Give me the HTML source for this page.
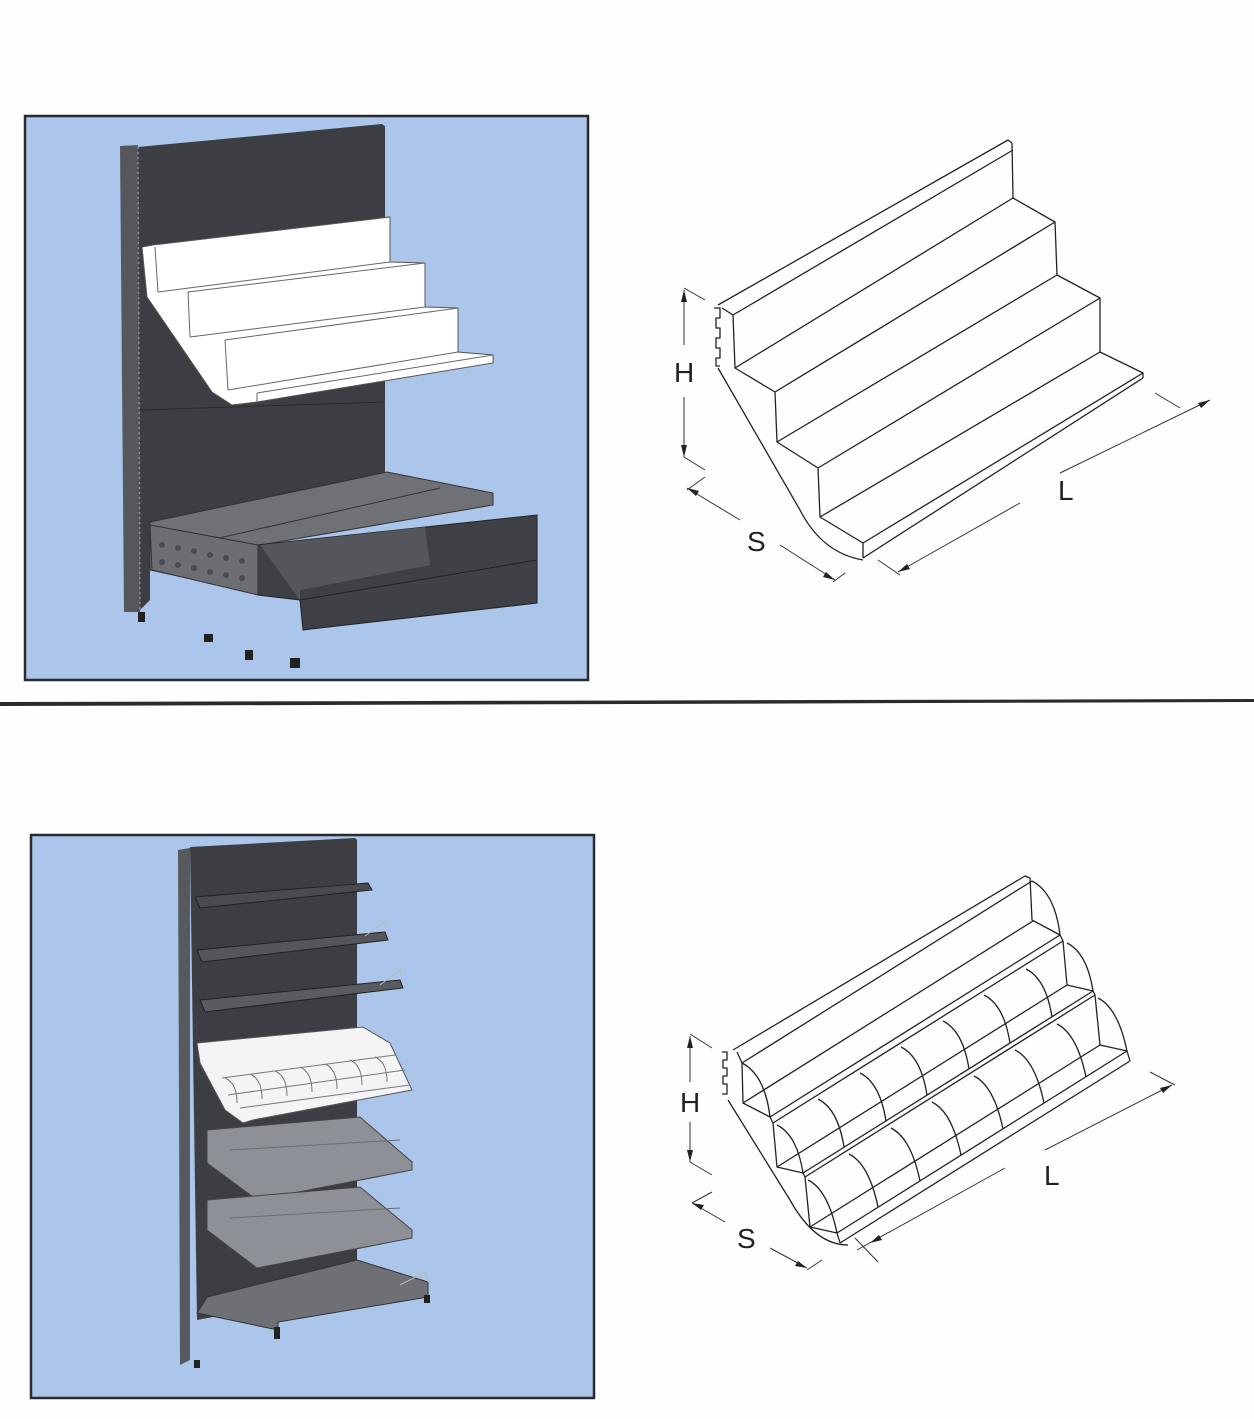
<!DOCTYPE html>
<html><head><meta charset="utf-8"><style>
html,body{margin:0;padding:0;background:#fff}
svg{display:block}
text{font-family:"Liberation Sans",sans-serif}
</style></head><body>
<svg width="1254" height="1419" viewBox="0 0 1254 1419" xmlns="http://www.w3.org/2000/svg">
<rect width="1254" height="1419" fill="#fefefe"/>
<polygon points="0,702 1254,699 1254,702 0,706" fill="#2a2c2c"/>

<!-- ===== TOP LEFT PANEL ===== -->
<rect x="25" y="116" width="563" height="564" fill="#abc6ea" stroke="#2a2a2e" stroke-width="2.5"/>
<polygon points="138,147 382,124 385,126 385,475 150,525 150,600 140,610" fill="#3d3e43"/>
<polygon points="120,146 138,145 140,612 124,612" fill="#55575c"/>
<line x1="138" y1="147" x2="140" y2="612" stroke="#8a8c92" stroke-width="1.5" stroke-dasharray="2,3"/>
<line x1="140" y1="410" x2="385" y2="402" stroke="#2a2b2f" stroke-width="1"/>
<polygon points="142,247 153,245 390,217 390,262 425,263 425,307 458,308 458,352 493,355 493,363 257,402 232,405 212,392 147,297" fill="#ffffff" stroke="#555" stroke-width="1"/>
<g stroke="#666" stroke-width="1" fill="none">
<line x1="158" y1="292" x2="390" y2="262"/>
<line x1="188" y1="292" x2="425" y2="263"/>
<line x1="190" y1="337" x2="425" y2="307"/>
<line x1="225" y1="340" x2="458" y2="308"/>
<line x1="228" y1="390" x2="458" y2="352"/>
<line x1="257" y1="393" x2="493" y2="355"/>
<line x1="155" y1="247" x2="158" y2="292"/>
<line x1="188" y1="292" x2="190" y2="337"/>
<line x1="225" y1="340" x2="228" y2="390"/>
<line x1="257" y1="393" x2="257" y2="402"/>
</g>
<polygon points="150,522 387,472 493,493 493,505 260,545 257,593 150,570" fill="#707176" stroke="#333" stroke-width="1"/>
<line x1="210" y1="540" x2="440" y2="488" stroke="#333" stroke-width="1"/>
<polygon points="257,545 537,515 537,603 303,630 300,600 258,595" fill="#3f4045" stroke="#222" stroke-width="1"/>
<polygon points="260,545 425,527 430,565 300,590 300,600" fill="#55565b"/>
<line x1="300" y1="600" x2="537" y2="560" stroke="#222" stroke-width="1"/>
<polygon points="150,525 258,545 258,595 152,570" fill="#6d6e73" stroke="#333" stroke-width="1"/>
<g fill="#4a4b50">
<circle cx="162" cy="545" r="3"/><circle cx="178" cy="548" r="3"/><circle cx="194" cy="551" r="3"/><circle cx="210" cy="555" r="3"/><circle cx="226" cy="558" r="3"/><circle cx="242" cy="561" r="3"/>
<circle cx="162" cy="562" r="3"/><circle cx="178" cy="565" r="3"/><circle cx="194" cy="568" r="3"/><circle cx="210" cy="572" r="3"/><circle cx="226" cy="575" r="3"/><circle cx="242" cy="578" r="3"/>
</g>
<g fill="#222"><rect x="138" y="612" width="7" height="10"/><rect x="204" y="634" width="9" height="8"/><rect x="245" y="650" width="8" height="10"/><rect x="290" y="658" width="10" height="10"/></g>

<!-- ===== TOP RIGHT DRAWING ===== -->
<g stroke="#222" stroke-width="1.3" fill="none" stroke-linejoin="round">
<polyline points="718,305 1008,140 1012,143"/>
<polyline points="722,308 733,315 735,368 775,392 777,442 818,468 820,517 863,543 863,558"/>
<line x1="733" y1="315" x2="1013" y2="150"/>
<line x1="735" y1="368" x2="1013" y2="198"/>
<line x1="775" y1="392" x2="1055" y2="222"/>
<line x1="777" y1="442" x2="1057" y2="275"/>
<line x1="818" y1="468" x2="1100" y2="298"/>
<line x1="820" y1="517" x2="1100" y2="352"/>
<line x1="863" y1="543" x2="1143" y2="373"/>
<line x1="863" y1="558" x2="1143" y2="378"/>
<polyline points="1012,143 1013,198 1055,222 1057,275 1100,298 1100,352 1143,373 1143,378"/>
<path d="M718,368 L800,510 Q822,553 863,560"/>
<polyline points="714,308 720,308 720,318 716,318 716,328 720,328 720,338 716,338 716,348 720,348 720,358 716,358 716,366 720,366"/>
</g>
<g stroke="#333" stroke-width="1" fill="none">
<line x1="684" y1="290" x2="684" y2="345"/><line x1="684" y1="397" x2="684" y2="457"/>
<line x1="684" y1="288" x2="705" y2="300"/><line x1="684" y1="457" x2="705" y2="470"/>
<line x1="687" y1="488" x2="740" y2="520"/><line x1="780" y1="545" x2="835" y2="580"/>
<line x1="687" y1="490" x2="705" y2="477"/><line x1="833" y1="582" x2="845" y2="573"/>
<line x1="898" y1="572" x2="1020" y2="503"/><line x1="1060" y1="473" x2="1210" y2="400"/>
<line x1="878" y1="560" x2="900" y2="575"/><line x1="1155" y1="393" x2="1180" y2="408"/>
</g>
<g fill="#222">
<polygon points="684,290 681,302 687,302"/><polygon points="684,457 681,445 687,445"/>
<polygon points="687,488 699,491 696,496"/><polygon points="835,580 823,577 826,572"/>
<polygon points="898,572 907,564 910,569"/><polygon points="1210,400 1201,408 1198,403"/>
</g>
<text x="674" y="382" font-size="28" fill="#222">H</text>
<text x="747" y="551" font-size="28" fill="#222">S</text>
<text x="1058" y="500" font-size="28" fill="#222">L</text>

<!-- ===== BOTTOM LEFT PANEL ===== -->
<rect x="31" y="835" width="563" height="563" fill="#abc6ea" stroke="#2a2a2e" stroke-width="2.5"/>
<polygon points="190,847 355,838 357,840 357,1290 197,1320" fill="#3d3e43"/>
<polygon points="178,850 190,848 190,1360 180,1365" fill="#58595e"/>
<polygon points="195,897 368,883 372,890 200,908" fill="#4a4b50" stroke="#222"/>
<polygon points="197,950 385,932 388,940 202,962" fill="#55565b" stroke="#222"/>
<polygon points="200,1000 400,980 403,988 205,1012" fill="#5a5b60" stroke="#222"/>
<g stroke="#bbb" fill="none" stroke-width="1"><polyline points="365,936 385,922 388,932"/><polyline points="380,985 400,970 402,980"/></g>
<polygon points="197,1043 363,1027 390,1043 412,1090 253,1120 243,1123 225,1110 200,1063" fill="#f4f4f6" stroke="#555"/>
<g stroke="#777" fill="none" stroke-width="1">
<line x1="222" y1="1078" x2="395" y2="1055"/><line x1="228" y1="1095" x2="405" y2="1070"/>
<line x1="240" y1="1108" x2="410" y2="1085"/>
<path d="M225,1078 q12,5 12,25 M250,1074 q12,5 12,25 M275,1071 q12,5 12,25 M300,1067 q12,5 12,25 M325,1064 q12,5 12,25 M350,1060 q12,5 12,25 M375,1057 q12,5 12,25"/>
</g>
<polygon points="207,1130 360,1117 412,1162 412,1170 257,1200 207,1163" fill="#8d9096" stroke="#444"/>
<polygon points="207,1200 360,1187 412,1230 412,1238 257,1268 207,1230" fill="#8d9096" stroke="#444"/>
<g stroke="#6b6e74" fill="none"><line x1="230" y1="1150" x2="400" y2="1140"/><line x1="230" y1="1218" x2="400" y2="1208"/></g>
<polygon points="207,1297 357,1260 428,1282 428,1297 278,1322 278,1330 197,1313" fill="#6e7075" stroke="#333"/>
<polyline points="400,1285 425,1272 428,1282" stroke="#bbb" fill="none"/>
<g fill="#222"><rect x="194" y="1360" width="6" height="8"/><rect x="274" y="1327" width="6" height="12"/><rect x="424" y="1295" width="6" height="8"/></g>

<!-- ===== BOTTOM RIGHT DRAWING ===== -->
<defs>
<path id="a1" d="M742,1063 Q765,1075 770,1117"/>
<path id="a2" d="M777,1125 Q797,1135 803,1173"/>
<path id="a3" d="M808,1180 Q828,1190 837,1233"/>
</defs>
<g stroke="#222" stroke-width="1.3" fill="none" stroke-linejoin="round">
<polyline points="733,1050 1025,876 1030,878"/>
<polyline points="737,1052 742,1063 743,1103 770,1117 773,1123 777,1167 803,1173 805,1177 810,1227 837,1233 840,1243"/>
<line x1="742" y1="1063" x2="1032" y2="881"/>
<line x1="743" y1="1103" x2="1033" y2="921"/>
<line x1="770" y1="1117" x2="1060" y2="935"/>
<line x1="773" y1="1123" x2="1063" y2="941"/>
<line x1="777" y1="1167" x2="1067" y2="985"/>
<line x1="803" y1="1173" x2="1093" y2="991"/>
<line x1="805" y1="1177" x2="1095" y2="995"/>
<line x1="810" y1="1227" x2="1100" y2="1045"/>
<line x1="837" y1="1233" x2="1127" y2="1051"/>
<line x1="840" y1="1243" x2="1130" y2="1061"/>
<polyline points="1030,878 1032,920 1060,935 1063,941 1067,985 1093,991 1095,995 1100,1045 1127,1051 1130,1061"/>
<path d="M728,1100 L790,1200 Q815,1245 848,1245"/>
<polyline points="722,1052 727,1052 727,1060 723,1060 723,1068 727,1068 727,1076 723,1076 723,1084 727,1084 727,1094 722,1094"/>
<use href="#a1"/><use href="#a1" transform="translate(290,-182)"/>
<use href="#a2"/><use href="#a2" transform="translate(41,-26)"/><use href="#a2" transform="translate(83,-52)"/><use href="#a2" transform="translate(124,-78)"/><use href="#a2" transform="translate(166,-104)"/><use href="#a2" transform="translate(207,-130)"/><use href="#a2" transform="translate(249,-156)"/><use href="#a2" transform="translate(290,-182)"/>
<use href="#a3"/><use href="#a3" transform="translate(41,-26)"/><use href="#a3" transform="translate(83,-52)"/><use href="#a3" transform="translate(124,-78)"/><use href="#a3" transform="translate(166,-104)"/><use href="#a3" transform="translate(207,-130)"/><use href="#a3" transform="translate(249,-156)"/><use href="#a3" transform="translate(290,-182)"/>
</g>
<g stroke="#333" stroke-width="1" fill="none">
<line x1="690" y1="1036" x2="690" y2="1082"/><line x1="690" y1="1122" x2="690" y2="1162"/>
<line x1="690" y1="1034" x2="712" y2="1048"/><line x1="690" y1="1162" x2="712" y2="1175"/>
<line x1="692" y1="1203" x2="725" y2="1222"/><line x1="770" y1="1248" x2="807" y2="1268"/>
<line x1="692" y1="1203" x2="712" y2="1192"/><line x1="807" y1="1270" x2="822" y2="1260"/>
<line x1="857" y1="1250" x2="1005" y2="1168"/><line x1="1045" y1="1150" x2="1172" y2="1085"/>
<line x1="855" y1="1238" x2="878" y2="1262"/><line x1="1150" y1="1072" x2="1175" y2="1085"/>
</g>
<g fill="#222">
<polygon points="690,1036 687,1048 693,1048"/><polygon points="690,1162 687,1150 693,1150"/>
<polygon points="692,1203 704,1205 701,1210"/><polygon points="807,1268 795,1266 798,1261"/>
<polygon points="870,1243 879,1235 882,1240"/><polygon points="1172,1085 1163,1093 1160,1088"/>
</g>
<text x="680" y="1112" font-size="28" fill="#222">H</text>
<text x="737" y="1248" font-size="28" fill="#222">S</text>
<text x="1044" y="1185" font-size="28" fill="#222">L</text>
</svg>
</body></html>
